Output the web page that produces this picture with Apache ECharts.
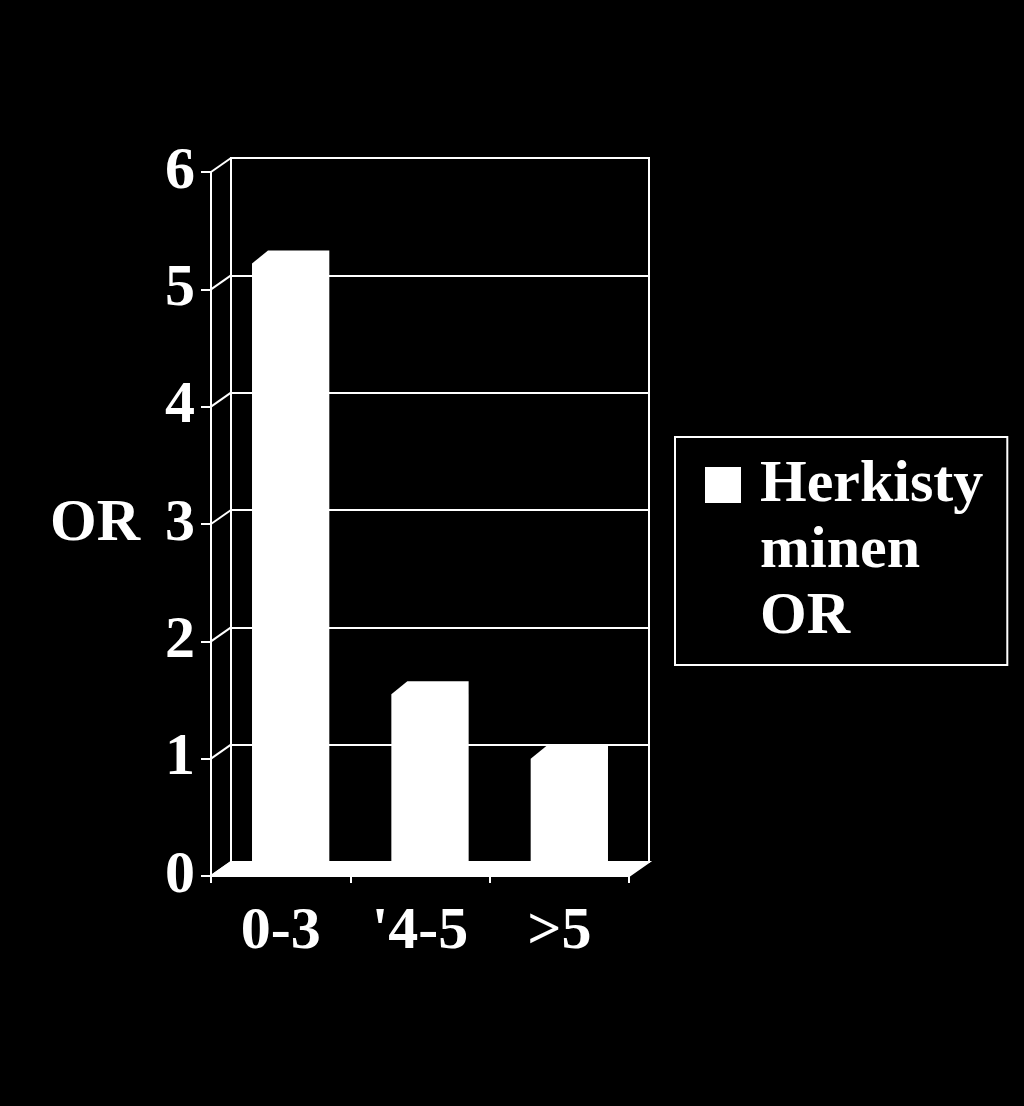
<!DOCTYPE html>
<html>
<head>
<meta charset="utf-8">
<title>Herkistyminen OR</title>
<script src="https://cdn.jsdelivr.net/npm/echarts@6.0.0/dist/echarts.min.js"></script>
<style>
  html, body { margin: 0; padding: 0; background: #000; }
  #main { width: 1024px; height: 1106px; }
</style>
</head>
<body>
<div id="main"></div>
<script>
// data
var categories = ['0-3', "'4-5", '>5'];
var orValues = [5.22, 1.55, 1.0];
var yTicks = [0, 1, 2, 3, 4, 5, 6];
var seriesName = 'Herkisty minen OR';

(function() {
    var myChart = echarts.init(document.getElementById('main'));
    var font = '"Liberation Serif", "Times New Roman", serif';
    // depth of the fake 3D box
    var dx = 20, dy = -14;
    var white = { color: '#fff', width: 2 };

    option = {
        backgroundColor: '#000',
        animation: false,
        legend: {
            data: [seriesName],
            left: 675,
            top: 437,
            orient: 'vertical',
            padding: [15, 24, 15, 25],
            borderColor: '#fff',
            borderWidth: 2,
            backgroundColor: '#000',
            selectedMode: false,
            icon: 'rect',
            itemWidth: 0,
            itemHeight: 0,
            formatter: function(name) {
                var w = name.split(' ');
                return '{sq| }{g| }{t|' + w[0] + '}\n{g2| }{t|' + w[1] + '}\n{g2| }{t|' + w[2] + '}';
            },
            textStyle: {
                color: '#fff',
                fontFamily: font,
                fontWeight: 'bold',
                fontSize: 60,
                lineHeight: 66,
                rich: {
                    sq: { width: 36, height: 36, backgroundColor: '#fff', lineHeight: 66 },
                    g: { width: 19, lineHeight: 66 },
                    g2: { width: 55, lineHeight: 66 },
                    t: { color: '#fff', fontFamily: font, fontWeight: 'bold', fontSize: 60, lineHeight: 66 }
                }
            }
        },
        grid: [
            // back wall
            { left: 231, top: 158, width: 418, height: 704, show: true, borderColor: '#fff', borderWidth: 2, backgroundColor: '#000', outerBoundsMode: 'none' },
            // front axes
            { left: 211, top: 172, width: 418, height: 704, outerBoundsMode: 'none' }
        ],
        xAxis: [
            { gridIndex: 0, type: 'category', data: categories, show: false },
            {
                gridIndex: 1,
                type: 'category',
                data: categories,
                axisLine: { show: true, lineStyle: white },
                axisTick: { show: true, length: 7, lineStyle: white },
                axisLabel: { color: '#fff', fontFamily: font, fontWeight: 'bold', fontSize: 60, margin: 26 },
                splitLine: { show: false }
            }
        ],
        yAxis: [
            {
                gridIndex: 0, type: 'value', min: 0, max: 6, interval: 1,
                axisLine: { show: false }, axisTick: { show: false }, axisLabel: { show: false },
                splitLine: { show: true, lineStyle: white }
            },
            {
                gridIndex: 1, type: 'value', min: 0, max: 6, interval: 1,
                name: 'OR',
                nameLocation: 'middle',
                nameRotate: 0,
                nameGap: 71,
                nameTextStyle: { color: '#fff', fontFamily: font, fontWeight: 'bold', fontSize: 60 },
                axisLine: { show: true, lineStyle: white },
                axisTick: { show: true, length: 10, lineStyle: white },
                axisLabel: { color: '#fff', fontFamily: font, fontWeight: 'bold', fontSize: 60, margin: 16 },
                splitLine: { show: false }
            }
        ],
        series: [
            {
                // diagonal tick lines from front axis to back wall
                type: 'custom',
                xAxisIndex: 1,
                yAxisIndex: 1,
                silent: true,
                data: yTicks.map(function(v) { return [0, v]; }),
                renderItem: function(params, api) {
                    var x0 = params.coordSys.x;
                    var y = api.coord([0, api.value(1)])[1];
                    return {
                        type: 'line',
                        shape: { x1: x0, y1: y, x2: x0 + dx, y2: y + dy },
                        style: { stroke: '#fff', lineWidth: 2 }
                    };
                }
            },
            {
                // floor
                type: 'custom',
                xAxisIndex: 1,
                yAxisIndex: 1,
                silent: true,
                data: [[0, 0]],
                renderItem: function(params, api) {
                    var x0 = params.coordSys.x;
                    var w = params.coordSys.width;
                    var y0 = api.coord([0, 0])[1];
                    return {
                        type: 'polygon',
                        shape: { points: [[x0, y0], [x0 + w, y0], [x0 + w + dx, y0 + dy], [x0 + dx, y0 + dy]] },
                        style: { fill: '#fff', stroke: '#fff', lineWidth: 2 }
                    };
                }
            },
            {
                name: seriesName,
                type: 'custom',
                xAxisIndex: 1,
                yAxisIndex: 1,
                itemStyle: { color: '#fff' },
                data: orValues.map(function(v, i) { return [i, v]; }),
                renderItem: function(params, api) {
                    var top = api.coord([api.value(0), api.value(1)]);
                    var base = api.coord([api.value(0), 0]);
                    var band = api.size([1, 0])[0];
                    var w = band * 0.44;
                    var L = top[0] - w / 2 + 2;
                    var bx = 16, by = 13;
                    return {
                        type: 'polygon',
                        shape: {
                            points: [
                                [L, base[1]], [L, top[1]], [L + bx, top[1] - by],
                                [L + w + bx, top[1] - by], [L + w + bx, base[1]]
                            ]
                        },
                        style: { fill: '#fff' }
                    };
                }
            }
        ]
    };

    myChart.setOption(option);
    window.addEventListener("resize", function() {
        myChart.resize();
    });
})();
</script>
</body>
</html>
